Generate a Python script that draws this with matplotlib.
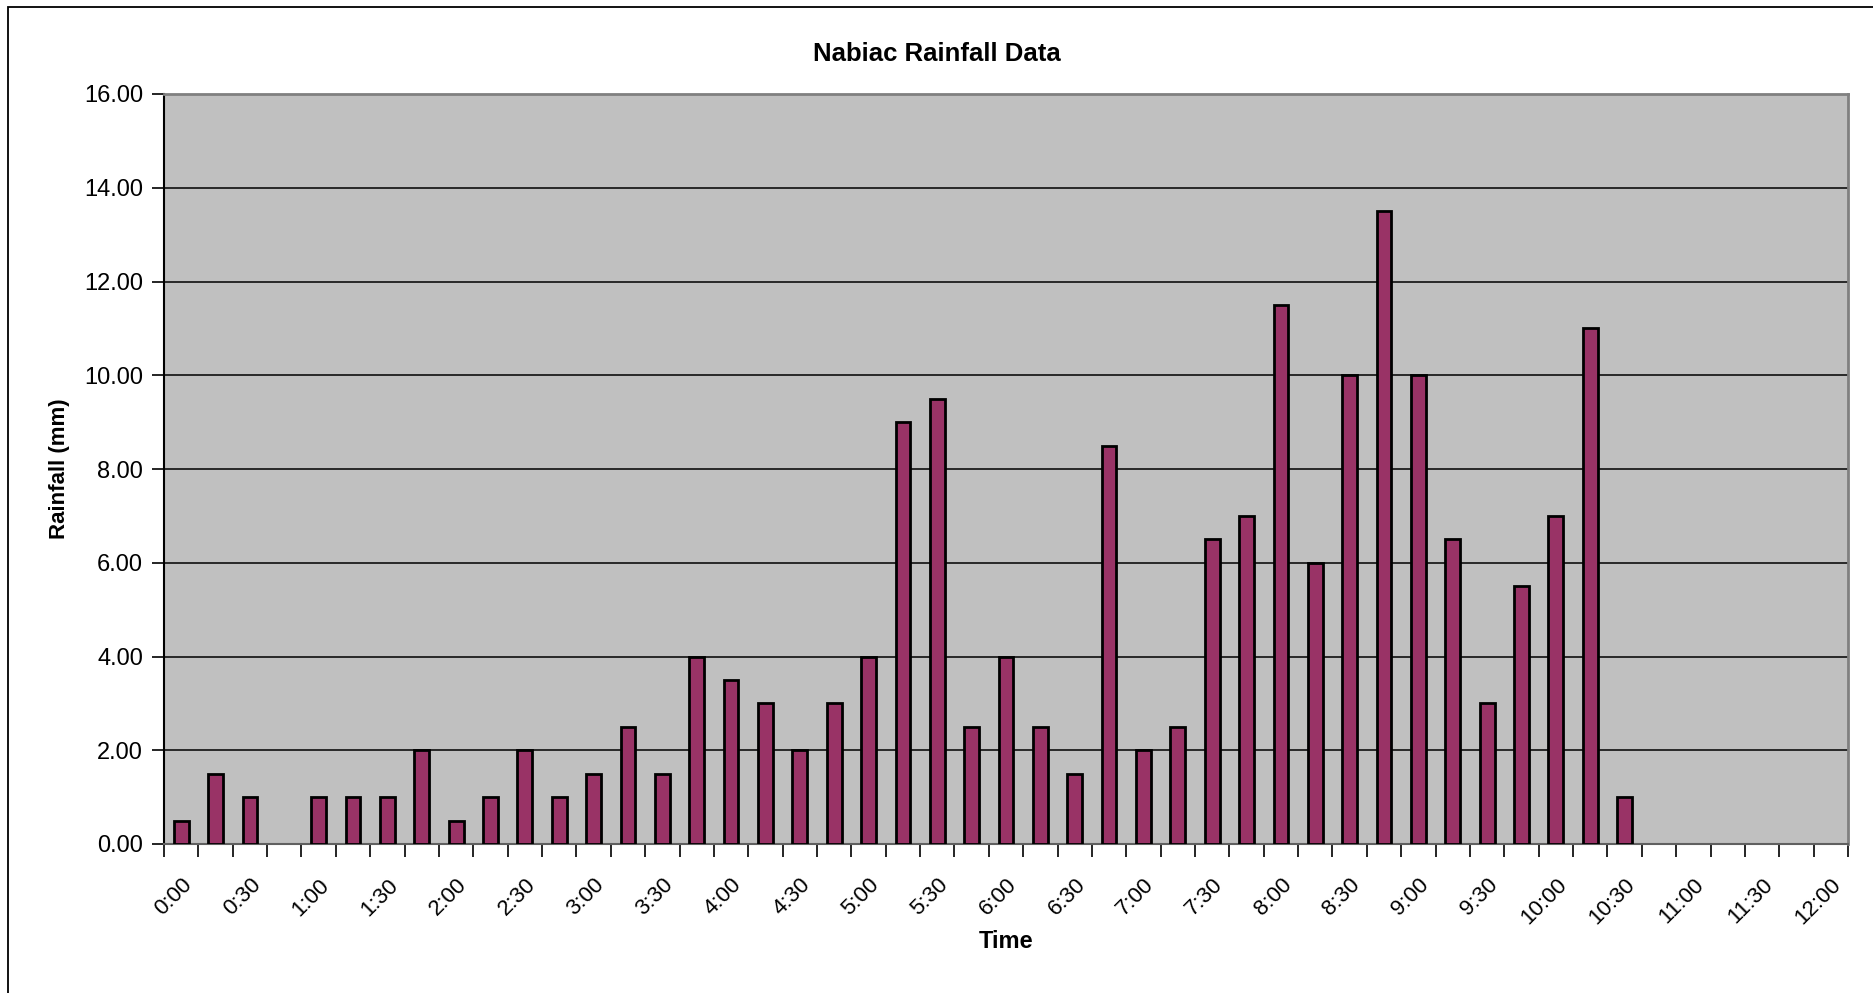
import matplotlib
matplotlib.use('Agg')
import matplotlib.pyplot as plt
from matplotlib.patches import Rectangle
import numpy as np

plt.rcParams['font.family'] = ['Liberation Sans', 'DejaVu Sans']

# 15 minute intervals from 0:00 to 12:00
times = ['%d:%02d' % (m // 60, m % 60) for m in range(0, 12 * 60 + 1, 15)]
rain = [0.5, 1.5, 1.0, 0.0, 1.0, 1.0, 1.0, 2.0, 0.5, 1.0, 2.0, 1.0,
        1.5, 2.5, 1.5, 4.0, 3.5, 3.0, 2.0, 3.0, 4.0, 9.0, 9.5, 2.5,
        4.0, 2.5, 1.5, 8.5, 2.0, 2.5, 6.5, 7.0, 11.5, 6.0, 10.0, 13.5,
        10.0, 6.5, 3.0, 5.5, 7.0, 11.0, 1.0]
yticks = [0, 2, 4, 6, 8, 10, 12, 14, 16]

W, H = 1874, 993
fig = plt.figure(figsize=(W / 100, H / 100), dpi=100)
# outer chart border
fig.patches.append(Rectangle((8 / W, -0.1), 1.2, 1 - 7 / H + 0.1, transform=fig.transFigure,
                             fill=False, edgecolor='black', linewidth=1.3))

left, right, top, bottom = 164, 1848, 94, 844
ax = fig.add_axes([left / W, 1 - bottom / H, (right - left) / W, (bottom - top) / H])
ax.set_facecolor('#C0C0C0')

x = np.arange(len(rain))
bars = ax.bar(x, rain, width=0.43, color='#993366', edgecolor='black', linewidth=2, zorder=3)
for b, v in zip(bars, rain):
    if v == 0:
        b.set_visible(False)

ax.set_xlim(-0.5, len(times) - 0.5)
ax.set_ylim(0, 16)
ax.set_yticks(yticks)
ax.set_yticklabels(['%.2f' % v for v in yticks], fontsize=17)
ax.yaxis.grid(True, color='black', linewidth=1.1, zorder=1)

# ticks at category boundaries, labels every other category
ax.set_xticks(np.arange(-0.5, len(times)), minor=False)
ax.set_xticklabels([])
x_lab = np.arange(0, len(times), 2)
ax.set_xticks(x_lab, minor=True)
ax.set_xticklabels([times[i] for i in x_lab], minor=True, rotation=45,
                   ha='right', va='top', rotation_mode='anchor', fontsize=16)
ax.tick_params(axis='x', which='major', length=9, width=1.2, direction='out')
ax.tick_params(axis='x', which='minor', length=0, pad=22)
ax.tick_params(axis='y', length=9, width=1.2, direction='out', pad=6)

for s in ['top', 'right']:
    ax.spines[s].set_color('#808080')
    ax.spines[s].set_linewidth(2)
ax.spines['left'].set_color('black')
ax.spines['left'].set_linewidth(1.5)
ax.spines['bottom'].set_color('#606060')
ax.spines['bottom'].set_linewidth(1.5)

fig.text(0.5, 1 - 54 / H, 'Nabiac Rainfall Data', ha='center', va='center',
         fontsize=18.5, fontweight='bold')
fig.text((left + right) / 2 / W, 1 - 942 / H, 'Time', ha='center', va='center',
         fontsize=17, fontweight='bold')
fig.text(60 / W, 1 - (top + bottom) / 2 / H, 'Rainfall (mm)', ha='center', va='center',
         rotation=90, fontsize=16, fontweight='bold')

fig.savefig('out.png', dpi=100, facecolor='white')
